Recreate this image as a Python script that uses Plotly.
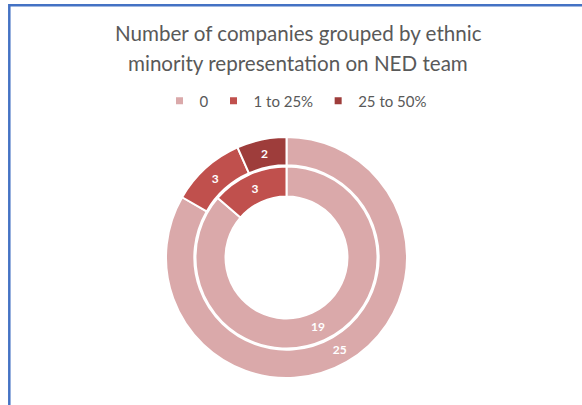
import plotly.graph_objects as go

# Share of NED seats held by ethnic-minority directors
categories = ["0", "1 to 25%", "25 to 50%"]
outer_values = [25, 3, 2]
inner_values = [19, 3, 0]
colors = ["#DAA9AA", "#C0504D", "#9E3D3B"]

W, H = 582, 405


def dom(cx, cy, r):
    """Pie domain (paper fractions) for a circle given in pixels."""
    return dict(x=[(cx - r) / W, (cx + r) / W],
                y=[(H - cy - r) / H, (H - cy + r) / H])


cx, cy = 286.5, 257.5
label_font = dict(color="white", size=12, family="Lato", weight="bold")

inner_keep = [i for i, v in enumerate(inner_values) if v > 0]

fig = go.Figure()

fig.add_trace(go.Pie(
    labels=categories,
    values=outer_values,
    marker=dict(colors=colors, line=dict(color="white", width=2)),
    hole=0.765,
    domain=dom(cx, cy, 120.5),
    sort=False,
    direction="clockwise",
    rotation=0,
    textinfo="value",
    textposition="inside",
    insidetextorientation="horizontal",
    insidetextfont=label_font,
    hoverinfo="label+value",
    showlegend=False,
))

fig.add_trace(go.Pie(
    labels=[categories[i] for i in inner_keep],
    values=[inner_values[i] for i in inner_keep],
    marker=dict(colors=[colors[i] for i in inner_keep],
                line=dict(color="white", width=2)),
    hole=0.67,
    domain=dom(cx, cy, 91),
    sort=False,
    direction="clockwise",
    rotation=0,
    textinfo="value",
    textposition="inside",
    insidetextorientation="horizontal",
    insidetextfont=label_font,
    hoverinfo="label+value",
    showlegend=False,
))

# Legend entries with small square swatches
for name, color in zip(categories, colors):
    fig.add_trace(go.Scatter(
        x=[None], y=[None], mode="markers", name=name,
        marker=dict(symbol="square", size=7, color=color),
        showlegend=True, hoverinfo="skip",
    ))

title_lines = ["Number of companies grouped by ethnic",
               "minority representation on NED team"]
annotations = []
for i, line in enumerate(title_lines):
    annotations.append(dict(
        text=line, x=298 / W, xref="paper", y=(H - 33 - 30 * i) / H, yref="paper",
        xanchor="center", yanchor="middle", showarrow=False,
        font=dict(family="Lato", size=20.6, color="#595959"),
    ))

fig.update_layout(
    width=W, height=H,
    margin=dict(l=0, r=0, t=0, b=0),
    paper_bgcolor="white",
    plot_bgcolor="white",
    xaxis=dict(visible=False),
    yaxis=dict(visible=False),
    annotations=annotations,
    legend=dict(
        orientation="h", x=296 / W, xanchor="center", y=(H - 101) / H, yanchor="middle",
        font=dict(family="Lato", size=15, color="#595959"),
        itemwidth=30, traceorder="normal", bgcolor="rgba(0,0,0,0)",
    ),
    shapes=[dict(
        type="rect", xref="paper", yref="paper",
        x0=9.3 / W, x1=1.2, y0=-0.2, y1=(H - 5.3) / H,
        line=dict(color="#4472C4", width=2.5), fillcolor="rgba(0,0,0,0)",
        layer="below",
    )],
)

fig.write_html("out.html")
